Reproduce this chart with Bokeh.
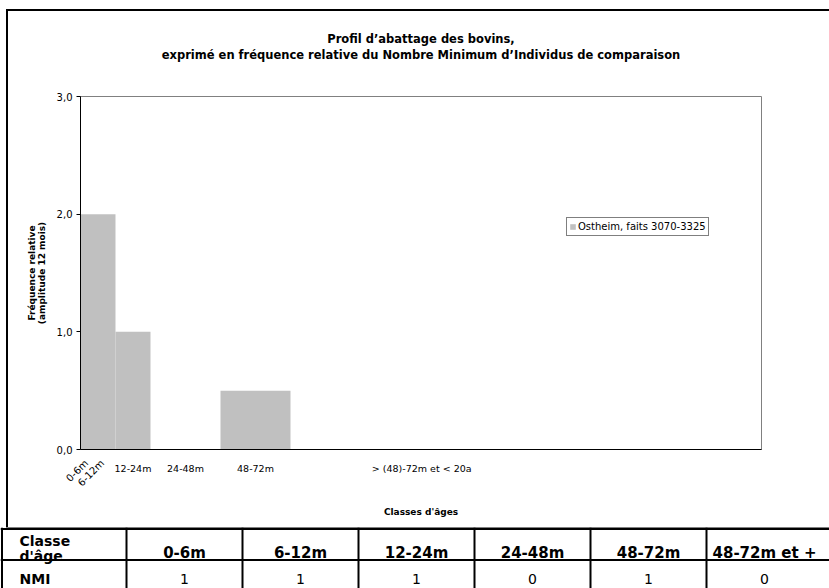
import math
from bokeh.plotting import figure
from bokeh.models import Range1d, FixedTicker, ColumnDataSource, Title, LinearAxis
from bokeh.layouts import column
from bokeh.embed import file_html
from bokeh.resources import INLINE
from bokeh.core.properties import value

FONT = "DejaVu Sans"

# ---------------- data ----------------
class_start = [0, 6, 12, 24, 48, 72]          # months
class_end = [6, 12, 24, 48, 72, 240]          # months
rel_freq = [2.0, 2.0, 1.0, 0.0, 0.5, 0.0]     # relative frequency (12-month amplitude)
series_name = "Ostheim, faits 3070-3325"

y_ticks = [0, 1, 2, 3]
y_tick_labels = ["0,0", "1,0", "2,0", "3,0"]

rot_label_x = [2, 7.5]
rot_labels = ["0-6m", "6-12m"]
flat_label_x = [18, 36, 60, 117]
flat_labels = ["12-24m", "24-48m", "48-72m", "> (48)-72m et < 20a"]

table_classes = ["0-6m", "6-12m", "12-24m", "24-48m", "48-72m", "48-72m et +"]
table_nmi = [1, 1, 1, 0, 1, 0]

title_lines = ["Profil d\u2019abattage des bovins,",
               "exprim\u00e9 en fr\u00e9quence relative du Nombre Minimum d\u2019Individus de comparaison"]

# ---------------- chart ----------------
p = figure(width=821, height=516, output_backend="svg", toolbar_location=None,
           x_range=Range1d(0, 233.5), y_range=Range1d(0, 3),
           min_border_left=72, min_border_right=68, min_border_top=85, min_border_bottom=78)
p.margin = (11, 0, 0, 8)
p.styles = {"outline": "2px solid black"}
p.frame_align = False
p.background_fill_color = "white"
p.border_fill_color = "white"
p.outline_line_color = "#808080"
p.outline_line_width = 1
p.xgrid.visible = False
p.ygrid.visible = False

src = ColumnDataSource(dict(left=class_start, right=class_end, top=rel_freq,
                            bottom=[0] * len(rel_freq)))
p.quad(left="left", right="right", top="top", bottom="bottom", source=src,
       fill_color="#C0C0C0", line_color=None, legend_label=series_name)

p.title.visible = False
# spacer nearest to the frame, then title line 2, then title line 1
p.add_layout(Title(text=" ", align="center", text_font=FONT, text_font_size="1px",
                   standoff=32), "above")
p.add_layout(Title(text=title_lines[1], align="center", text_font=FONT,
                   text_font_size="11.5px", text_font_style="bold", text_color="black",
                   standoff=0), "above")
p.add_layout(Title(text=title_lines[0], align="center", text_font=FONT,
                   text_font_size="11.5px", text_font_style="bold", text_color="black",
                   standoff=0), "above")

ya = p.yaxis[0]
ya.ticker = FixedTicker(ticks=y_ticks)
ya.major_label_overrides = {t: l for t, l in zip(y_ticks, y_tick_labels)}
ya.major_tick_out = 4
ya.major_tick_in = 0
ya.minor_tick_out = 0
ya.minor_tick_in = 0
ya.axis_line_color = "black"
ya.major_tick_line_color = "black"
ya.major_label_text_font = FONT
ya.major_label_text_font_size = "10px"
ya.major_label_text_color = "black"
ya.major_label_standoff = 4
ya.axis_label = "Fr\u00e9quence relative\n(amplitude 12 mois)"
ya.axis_label_text_font = FONT
ya.axis_label_text_font_size = "9px"
ya.axis_label_text_font_style = "bold"
ya.axis_label_text_color = "black"
ya.axis_label_text_line_height = 1.0
ya.axis_label_standoff = 7

xa = p.xaxis[0]
xa.ticker = FixedTicker(ticks=flat_label_x)
xa.major_label_overrides = {t: l for t, l in zip(flat_label_x, flat_labels)}
xa.major_tick_out = 0
xa.major_tick_in = 0
xa.minor_tick_out = 0
xa.minor_tick_in = 0
xa.axis_line_color = "black"
xa.major_label_text_font = FONT
xa.major_label_text_font_size = "9.5px"
xa.major_label_text_color = "black"
xa.major_label_standoff = 13

# second (outer) bottom axis carrying the two slanted class labels and the axis title
ra = LinearAxis(ticker=FixedTicker(ticks=rot_label_x),
                major_label_overrides={t: l for t, l in zip(rot_label_x, rot_labels)},
                major_label_orientation=math.pi / 4, axis_line_color=None,
                major_tick_out=0, major_tick_in=0, minor_tick_out=0, minor_tick_in=0,
                major_label_standoff=-15, major_label_text_font=FONT,
                major_label_text_font_size="10px", major_label_text_color="black",
                axis_label="Classes d'\u00e2ges", axis_label_text_font=FONT,
                axis_label_text_font_size="9px", axis_label_text_font_style="bold",
                axis_label_text_color="black", axis_label_standoff=12)
p.add_layout(ra, "below")

lg = p.legend[0]
lg.location = (486, 213)
lg.border_line_color = "black"
lg.border_line_width = 1
lg.background_fill_color = "white"
lg.label_text_font = FONT
lg.label_text_font_size = "10px"
lg.label_text_color = "black"
lg.glyph_width = 7
lg.glyph_height = 7
lg.label_height = 13
lg.label_standoff = 2
lg.padding = 2
lg.margin = 0
lg.spacing = 0

# ---------------- table ----------------
t = figure(width=829, height=61, output_backend="svg", toolbar_location=None,
           x_range=Range1d(0, 829), y_range=Range1d(61, 0), min_border=0,
           x_axis_type=None, y_axis_type=None)
t.frame_align = False
t.outline_line_color = None
t.background_fill_color = "white"
t.border_fill_color = "white"

first_w = 126
col_w = 116
ncol = len(table_classes)
edges = [1.5] + [first_w + i * col_w for i in range(ncol)]
t.segment(x0=edges, y0=[0] * len(edges), x1=edges, y1=[61] * len(edges),
          line_color="black", line_width=2)
t.segment(x0=[0, 0], y0=[1.5, 32.5], x1=[829, 829], y1=[1.5, 32.5],
          line_color="black", line_width=2)

centers = [first_w + i * col_w + col_w / 2 for i in range(ncol)]
t.text(x=centers, y=[25] * ncol, text=table_classes, text_align="center",
       text_baseline="middle", text_font=value(FONT), text_font_size="15px",
       text_font_style="bold", text_color="black")
t.text(x=[19, 19], y=[13.5, 28.5], text=["Classe", "d'\u00e2ge"], text_align="left",
       text_baseline="middle", text_font=value(FONT), text_font_size="14px",
       text_font_style="bold", text_color="black")
t.text(x=[19], y=[51.5], text=["NMI"], text_align="left", text_baseline="middle",
       text_font=value(FONT), text_font_size="14px", text_font_style="bold",
       text_color="black")
t.text(x=centers, y=[51.5] * ncol, text=[str(v) for v in table_nmi], text_align="center",
       text_baseline="middle", text_font=value(FONT), text_font_size="14px",
       text_color="black")

layout = column(p, t, spacing=0)
open("out.html", "w").write(file_html(layout, INLINE))
